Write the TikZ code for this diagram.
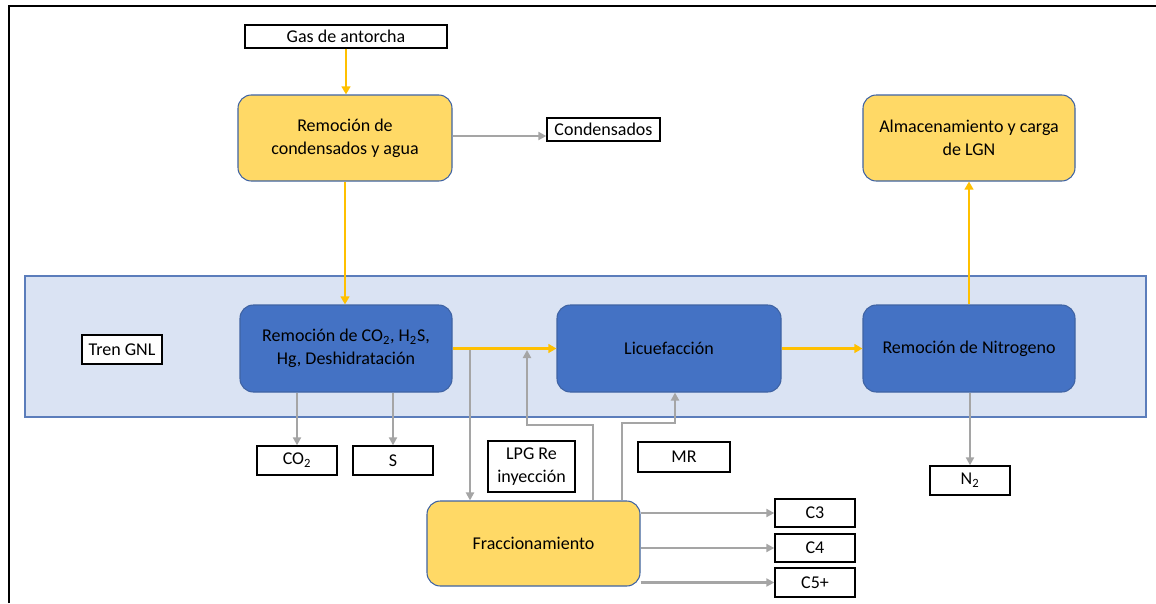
\documentclass[tikz,border=0pt]{standalone}
\usepackage{fontspec}
\setmainfont{Carlito}
\usetikzlibrary{arrows.meta}
\definecolor{flowY}{HTML}{FFC000}
\definecolor{flowG}{HTML}{A5A5A5}
\definecolor{unitY}{HTML}{FFD966}
\definecolor{unitB}{HTML}{4472C4}
\definecolor{unitEdge}{HTML}{3F63A3}
\definecolor{trainBg}{HTML}{DAE3F3}
\definecolor{trainEdge}{HTML}{5B7DBB}
\newdimen\pxu \pxu=0.75pt
\begin{document}
\begin{tikzpicture}[x=0.75pt,y=-0.75pt,
  font=\fontsize{13.5}{17}\selectfont,
  sz/.style 2 args={minimum width=#1\pxu, minimum height=#2\pxu},
  unit/.style={inner sep=0pt, rounded corners=10pt, draw=unitEdge,
               line width=0.8pt, align=center, text=black},
  yunit/.style={unit, fill=unitY},
  bunit/.style={unit, fill=unitB},
  tag/.style={inner sep=0pt, draw=black, line width=1pt, fill=white,
              align=center, text=black},
  yflow/.style={draw=flowY, line width=1.6pt, -{Triangle[length=6pt,width=6.5pt]}},
  gflow/.style={draw=flowG, line width=1.6pt, -{Triangle[length=6pt,width=6pt]}},
]
\useasboundingbox (0,0) rectangle (1156,603);

% page frame
\draw[line width=2pt] (9,603) -- (9,6) -- (1156,6);

% LNG train band
\node[sz={1121}{141}, inner sep=0pt, fill=trainBg, draw=trainEdge,
      line width=0.8pt] (train) at (585.5,346.5) {};
\node[tag, sz={80}{29}] (tren) at (122,349.5) {Tren GNL};

% process units
\node[yunit, sz={214}{86}] (rca) at (345,138) {Remoción de\\condensados y agua};
\node[yunit, sz={212}{86}] (alm) at (969,138) {Almacenamiento y carga\\de LGN};
\node[bunit, sz={212}{87}] (rco2) at (346,348.5)
  {Remoción de CO\textsubscript{2}, H\textsubscript{2}S,\\Hg, Deshidratación};
\node[bunit, sz={224}{87}] (licu) at (669,348.5) {Licuefacción};
\node[bunit, sz={212}{87}] (nit) at (969,348.5) {Remoción de Nitrogeno};
\node[yunit, sz={213}{85}] (frac) at (533.5,543.5) {Fraccionamiento};

% streams
\node[tag, sz={202}{23}] (gas) at (346,36.5) {Gas de antorcha};
\node[tag, sz={113}{23}] (cond) at (603.5,129.5) {Condensados};
\node[tag, sz={80}{29}] (co2) at (297,460.5) {CO\textsubscript{2}};
\node[tag, sz={80}{29}] (s) at (393,460.5) {S};
\node[tag, sz={87}{51}] (lpg) at (531.5,466.5) {LPG Re\\inyección};
\node[tag, sz={92}{30}] (mr) at (684,457) {MR};
\node[tag, sz={80}{29}] (n2) at (970,480.5) {N\textsubscript{2}};
\node[tag, sz={80}{28}] (c3) at (815,513) {C3};
\node[tag, sz={80}{28}] (c4) at (815,548) {C4};
\node[tag, sz={80}{29}] (c5) at (815,582.5) {C5+};

% main gas path
\draw[yflow] (gas.south) -- (gas.south |- rca.north);
\draw[yflow] (rca.south) -- (rca.south |- rco2.north);
\draw[yflow] (rco2.east) -- (licu.west);
\draw[yflow] (licu.east) -- (nit.west);
\draw[yflow] (nit.north) -- (nit.north |- alm.south);

% by-product and recycle lines
\coordinate (tapF) at (470,350);
\coordinate (tapL) at (527,350);
\draw[gflow] (rca.east |- 0,136) -- (cond.west |- 0,136);
\draw[gflow] (rco2.south -| co2) -- (co2.north);
\draw[gflow] (rco2.south -| s) -- (s.north);
\draw[gflow] (tapF) -- (tapF |- frac.north);
\draw[gflow] (frac.north -| 593,0) -- (593,425) -- (tapL |- 0,425) -- (tapL);
\draw[gflow] (frac.north -| 622,0) -- (622,423) -- (675,423) -- (licu.south -| 675,0);
\draw[gflow] (nit.south -| n2) -- (n2.north);
\draw[gflow] (frac.east |- c3) -- (c3.west);
\draw[gflow] (frac.east |- c4) -- (c4.west);
\draw[gflow] (frac.east |- c5) -- (c5.west);
\end{tikzpicture}
\end{document}
